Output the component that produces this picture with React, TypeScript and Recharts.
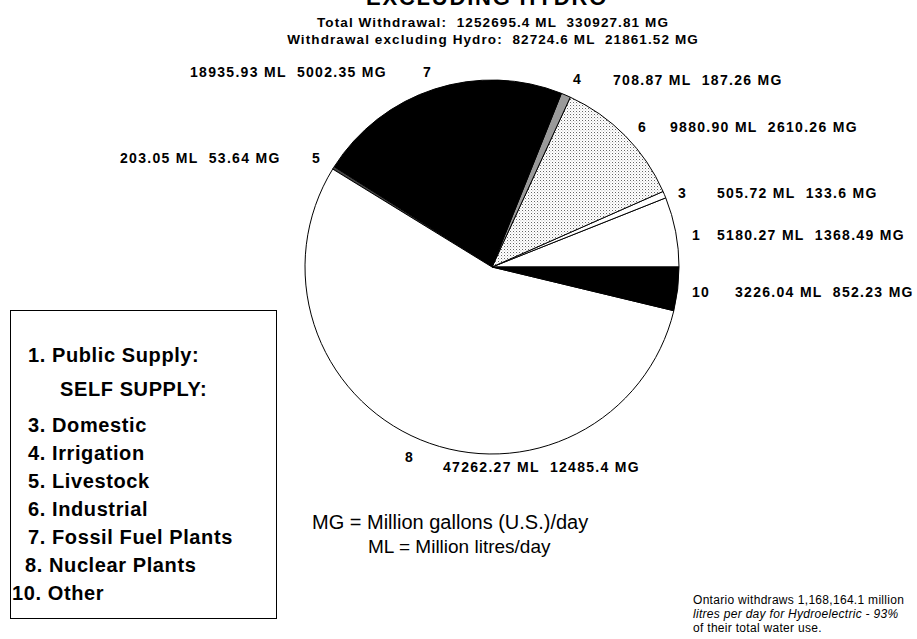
import { PieChart, Pie, Cell } from "recharts";

// slices in drawing order, counter-clockwise from 3 o'clock
const sliceIds = ["1", "3", "6", "4", "7", "5", "8", "10"];
const mlLabels = ["5180.27", "505.72", "9880.90", "708.87", "18935.93", "203.05", "47262.27", "3226.04"];
const mgLabels = ["1368.49", "133.6", "2610.26", "187.26", "5002.35", "53.64", "12485.4", "852.23"];

const legendItems = [
  "1. Public Supply:",
  "SELF SUPPLY:",
  "3. Domestic",
  "4. Irrigation",
  "5. Livestock",
  "6. Industrial",
  "7. Fossil Fuel Plants",
  "8. Nuclear Plants",
  "10. Other",
];

const headerLines = [
  "Total Withdrawal:  1252695.4 ML  330927.81 MG",
  "Withdrawal excluding Hydro:  82724.6 ML  21861.52 MG",
];
const unitLines = ["MG = Million gallons (U.S.)/day", "ML = Million litres/day"];
const noteLines = [
  "Ontario withdraws 1,168,164.1 million",
  "litres per day for Hydroelectric - 93%",
  "of their total water use.",
];

const sliceFills = ["#fff", "#fff", "url(#stipple)", "#9a9a9a", "#000", "#444", "#fff", "#000"];

// where the number and the value text of each slice sit
const labelLayout = [
  { nx: 692, ny: 240, tx: 717, ty: 240 },
  { nx: 678, ny: 198, tx: 717, ty: 198 },
  { nx: 638, ny: 132, tx: 670, ty: 132 },
  { nx: 573, ny: 84, tx: 613, ty: 85 },
  { nx: 423, ny: 77, tx: 190, ty: 77 },
  { nx: 312, ny: 163, tx: 120, ty: 163 },
  { nx: 405, ny: 462, tx: 443, ty: 472 },
  { nx: 692, ny: 297, tx: 735, ty: 297 },
];

const font = '"Liberation Sans", Arial, sans-serif';

const data = sliceIds.map((id, i) => ({
  id,
  value: parseFloat(mlLabels[i]),
  ml: mlLabels[i],
  mg: mgLabels[i],
}));

const labelStyle: React.CSSProperties = {
  fontFamily: font,
  fontSize: 14,
  fontWeight: 700,
  letterSpacing: 1.3,
  whiteSpace: "pre",
};

const renderLabel = (props: any) => {
  const { index } = props;
  const p = labelLayout[index];
  const d = data[index];
  return (
    <g>
      <text x={p.nx} y={p.ny} fill="#000" style={labelStyle}>
        {d.id}
      </text>
      <text x={p.tx} y={p.ty} fill="#000" style={labelStyle}>
        {`${d.ml} ML  ${d.mg} MG`}
      </text>
    </g>
  );
};

const App = () => {
  return (
    <div
      style={{
        position: "absolute",
        left: 0,
        top: 0,
        width: 917,
        height: 639,
        background: "#fff",
        overflow: "hidden",
      }}
    >
      <svg width={0} height={0} style={{ position: "absolute" }}>
        <defs>
          <pattern id="stipple" width={3} height={3} patternUnits="userSpaceOnUse">
            <rect width={3} height={3} fill="#fff" />
            <rect x={0} y={0} width={1} height={1} fill="#666" />
            <rect x={1.5} y={1.5} width={0.8} height={0.8} fill="#999" />
          </pattern>
        </defs>
      </svg>

      <PieChart width={917} height={639} margin={{ top: 0, right: 0, bottom: 0, left: 0 }}>
        <Pie
          data={data}
          dataKey="value"
          nameKey="id"
          cx={492}
          cy={267}
          outerRadius={187}
          startAngle={0}
          endAngle={360}
          stroke="#000"
          strokeWidth={1}
          labelLine={false}
          label={renderLabel}
          isAnimationActive={false}
        >
          {data.map((d, i) => (
            <Cell key={d.id} fill={sliceFills[i]} />
          ))}
        </Pie>
      </PieChart>

      <svg
        width={917}
        height={639}
        style={{ position: "absolute", left: 0, top: 0, pointerEvents: "none" }}
      >
        <text
          x={487}
          y={5}
          textAnchor="middle"
          style={{ fontFamily: font, fontSize: 22, fontWeight: 700, letterSpacing: 1.8 }}
        >
          EXCLUDING HYDRO
        </text>
        {headerLines.map((t, i) => (
          <text
            key={t}
            x={493}
            y={27 + i * 17}
            textAnchor="middle"
            style={{ ...labelStyle, fontSize: 13.5, letterSpacing: 1.1 }}
          >
            {t}
          </text>
        ))}

        <rect x={10.5} y={310.5} width={266} height={308} fill="none" stroke="#000" strokeWidth={1} />
        {legendItems.map((t, i) => {
          const x = i === 1 ? 60 : i === 8 ? 12 : i === 7 ? 25 : 28;
          const y = i === 0 ? 362 : i === 1 ? 396 : 432 + (i - 2) * 28;
          return (
            <text
              key={t}
              x={x}
              y={y}
              style={{ fontFamily: font, fontSize: 20, fontWeight: 700, letterSpacing: 0.6 }}
            >
              {t}
            </text>
          );
        })}

        {unitLines.map((t, i) => (
          <text
            key={t}
            x={i === 0 ? 312 : 368}
            y={529 + i * 24}
            style={{ fontFamily: font, fontSize: i === 0 ? 20 : 19 }}
          >
            {t}
          </text>
        ))}

        {noteLines.map((t, i) => (
          <text
            key={t}
            x={693}
            y={604 + i * 14}
            style={{
              fontFamily: font,
              fontSize: 12,
              fontStyle: i === 1 ? "italic" : "normal",
              letterSpacing: 0.3,
            }}
          >
            {t}
          </text>
        ))}
      </svg>
    </div>
  );
};

export default App;
